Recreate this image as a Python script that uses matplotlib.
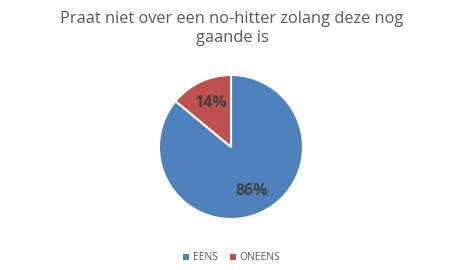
import matplotlib.pyplot as plt
from matplotlib.patches import Patch

# Chart data
labels = ["EENS", "ONEENS"]
values = [86, 14]
colors = ["#4F81BD", "#C0504D"]

fig = plt.figure(figsize=(4.64, 2.70), dpi=100)
plt.rcParams["font.family"] = ["Open Sans", "DejaVu Sans"]

# Title
fig.text(0.5, 0.895, "Praat niet over een no-hitter zolang deze nog\ngaande is",
         ha="center", va="center", fontsize=11.8, color="#595959", linespacing=1.2)

# Pie
ax = fig.add_axes([159 / 464, 51 / 270, 144 / 464, 144 / 270])
wedges, texts, autotexts = ax.pie(
    values, colors=colors, startangle=90, counterclock=False,
    autopct="%1.0f%%", pctdistance=0.67,
    wedgeprops={"edgecolor": "white", "linewidth": 1.5},
    textprops={"fontsize": 11.5, "fontweight": "bold", "color": "#404040"},
)
ax.set_xlim(-1, 1)
ax.set_ylim(-1, 1)
ax.set_aspect("equal")

# Legend
handles = [Patch(facecolor=c, label=l) for c, l in zip(colors, labels)]
fig.legend(handles=handles, loc="center", bbox_to_anchor=(0.5, 0.045), ncol=2,
           frameon=False, fontsize=7.5, handlelength=0.5, handleheight=0.5,
           handletextpad=0.4, columnspacing=1.2, labelcolor="#595959")

plt.savefig("out.png", dpi=100)
